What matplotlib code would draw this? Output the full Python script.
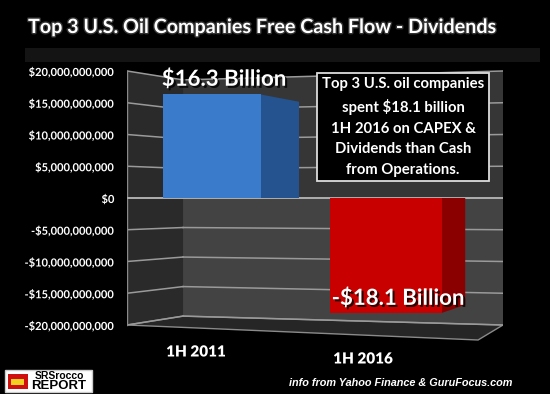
import matplotlib
matplotlib.use("Agg")
import matplotlib.pyplot as plt
import matplotlib.patheffects as pe
from matplotlib.patches import Polygon, Rectangle
from matplotlib.ticker import FuncFormatter
import numpy as np

# ---- data ----
categories = ["1H 2011", "1H 2016"]
values_billion = [16.3, -18.1]
value_labels = ["$16.3 Billion", "-$18.1 Billion"]
y_ticks_billion = [20, 15, 10, 5, 0, -5, -10, -15, -20]
title = "Top 3 U.S. Oil Companies Free Cash Flow - Dividends"
note = ("Top 3 U.S. oil companies\nspent $18.1 billion\n1H 2016 on CAPEX &\n"
        "Dividends than Cash\nfrom Operations.")
source = "info from Yahoo Finance & GuruFocus.com"

# ---- style ----
front_colors = ["#3b7bcc", "#c80000"]
side_colors = ["#24538f", "#8a0000"]
bar_widths = [0.56, 0.64]
bar_depths = [0.22, 0.135]
back_scale = 0.93
FONT = "Lato"

W, H = 550, 394
fig = plt.figure(figsize=(W / 100, H / 100), dpi=100, facecolor="black")

def fig_rect(l, t, r, b):
    return [l / W, 1 - b / H, (r - l) / W, (b - t) / H]

ax = fig.add_axes(fig_rect(127, 60, 503, 345))
ax.set_facecolor("black")
ax.set_xlim(-0.4885, 1.672)
ax.set_ylim(-23.15, 21.73)
for s in ax.spines.values():
    s.set_visible(False)

xmin, xmax = ax.get_xlim()
x_wall = xmin + (183 - 127) / 174.0
ytop, ybot = max(y_ticks_billion), min(y_ticks_billion)

# back wall (upper and lower halves)
ax.add_patch(Polygon([(x_wall, 0), (x_wall, ytop * back_scale), (xmax, ytop), (xmax, 0)],
                     closed=True, facecolor="#363636", edgecolor="none", zorder=0))
ax.add_patch(Polygon([(x_wall, 0), (x_wall, ybot * back_scale), (xmax, ybot), (xmax, 0)],
                     closed=True, facecolor="#434343", edgecolor="none", zorder=0))
# side wall
ax.add_patch(Polygon([(xmin, ytop), (x_wall, ytop * back_scale),
                      (x_wall, ybot * back_scale), (xmin, ybot)],
                     closed=True, facecolor="#2a2a2a", edgecolor="none", zorder=0))
# floor
x_floor_r = xmin + (478 - 127) / 174.0
y_floor_f = -(340 - 198) / 6.35
ax.add_patch(Polygon([(xmin, ybot), (x_wall, ybot * back_scale), (xmax, ybot),
                      (x_floor_r, y_floor_f)],
                     closed=True, facecolor="#262626", edgecolor="#8a8a8a", lw=1.0, zorder=1))

# gridlines
for t in y_ticks_billion:
    ax.plot([xmin, x_wall], [t, t * back_scale], color="#9a9a9a", lw=1.1, zorder=1)
    ax.plot([x_wall, xmax], [t * back_scale, t], color="#9a9a9a", lw=1.1, zorder=1)
ax.plot([xmin, xmin], [ybot, ytop], color="#8a8a8a", lw=1.0, zorder=1)
ax.plot([xmin, xmax], [0, 0], color="#b0b0b0", lw=1.3, zorder=2)

# bars
xs = np.arange(len(categories))
for i, v in enumerate(values_billion):
    x0 = xs[i] - bar_widths[i] / 2
    x1 = xs[i] + bar_widths[i] / 2
    d = bar_depths[i]
    ax.bar(xs[i], v, width=bar_widths[i], color=front_colors[i], edgecolor="none", zorder=4)
    ax.add_patch(Polygon([(x1, 0), (x1, v), (x1 + d, v * back_scale), (x1 + d, 0)],
                         closed=True, facecolor=side_colors[i], edgecolor="none", zorder=3))

# value labels
shadow = [pe.withSimplePatchShadow(offset=(1.5, -1.5), shadow_rgbFace="black", alpha=0.8)]
label_y = [v + (2.4 if v > 0 else 2.3) for v in values_billion]
for i, v in enumerate(values_billion):
    ax.text(xs[i] + 0.07, label_y[i], value_labels[i], color="white", fontsize=16,
            fontweight="bold", family=FONT, ha="center", va="center", zorder=6,
            path_effects=shadow)

# y ticks
def fmt(val, pos):
    n = int(round(val * 1e9))
    return ("-$" if n < 0 else "$") + f"{abs(n):,}"
ax.set_yticks(y_ticks_billion)
ax.yaxis.set_major_formatter(FuncFormatter(fmt))
ax.tick_params(axis="y", length=0, pad=9, labelsize=8.0, labelcolor="white")
for lab in ax.get_yticklabels():
    lab.set_fontweight("bold")
    lab.set_family(FONT)
    lab.set_path_effects(shadow)
ax.set_xticks([])

# category labels (perspective offset)
cat_y = [-(352 - 198) / 6.35, -(359 - 198) / 6.35]
cat_x = [(196 - 212) / 174.0, (363 - 212) / 174.0]
for i, c in enumerate(categories):
    ax.text(cat_x[i], cat_y[i], c, color="white", fontsize=11, fontweight="heavy",
            family=FONT, ha="center", va="center", clip_on=False, path_effects=shadow)

# annotation box
fig.text(403 / W, 1 - 127 / H, note, color="white", fontsize=10.7, fontweight="bold",
         family=FONT, ha="center", va="center", linespacing=1.6,
         bbox=dict(boxstyle="square,pad=0.3", facecolor="black", edgecolor="#dddddd", lw=1.3),
         zorder=10)

# title
fig.patches.append(Rectangle((25 / W, 1 - 62 / H), 515 / W, 14 / H, transform=fig.transFigure,
                             facecolor="#141414", edgecolor="none", zorder=0))
fig.text(263 / W, 1 - 27 / H, title, color="white", fontsize=14.2, fontweight="bold",
         family=FONT, ha="center", va="center",
         path_effects=[pe.withStroke(linewidth=2, foreground="#333333")])

# source
fig.text(512 / W, 1 - 383 / H, source, color="white", fontsize=7.8, fontweight="bold",
         style="italic", family="Liberation Sans", ha="right", va="center")

# logo
fig.patches.append(Rectangle((5 / W, 1 - 392 / H), 87 / W, 22 / H, transform=fig.transFigure,
                             facecolor="white", edgecolor="#cccccc", zorder=1))
fig.patches.append(Rectangle((8 / W, 1 - 389 / H), 20 / W, 15 / H, transform=fig.transFigure,
                             facecolor="#d01010", edgecolor="none", zorder=2))
fig.patches.append(Rectangle((11 / W, 1 - 385 / H), 13 / W, 6 / H, transform=fig.transFigure,
                             facecolor="#f0d020", edgecolor="none", zorder=3))
fig.text(59 / W, 1 - 376 / H, "SRSrocco", color="black", fontsize=7.5, fontweight="bold",
         family="Liberation Sans", ha="center", va="center", zorder=4)
fig.text(59 / W, 1 - 386 / H, "REPORT", color="black", fontsize=9.5, fontweight="bold",
         family="Liberation Sans", ha="center", va="center", zorder=4)

fig.savefig("out.png", dpi=100, facecolor="black")
